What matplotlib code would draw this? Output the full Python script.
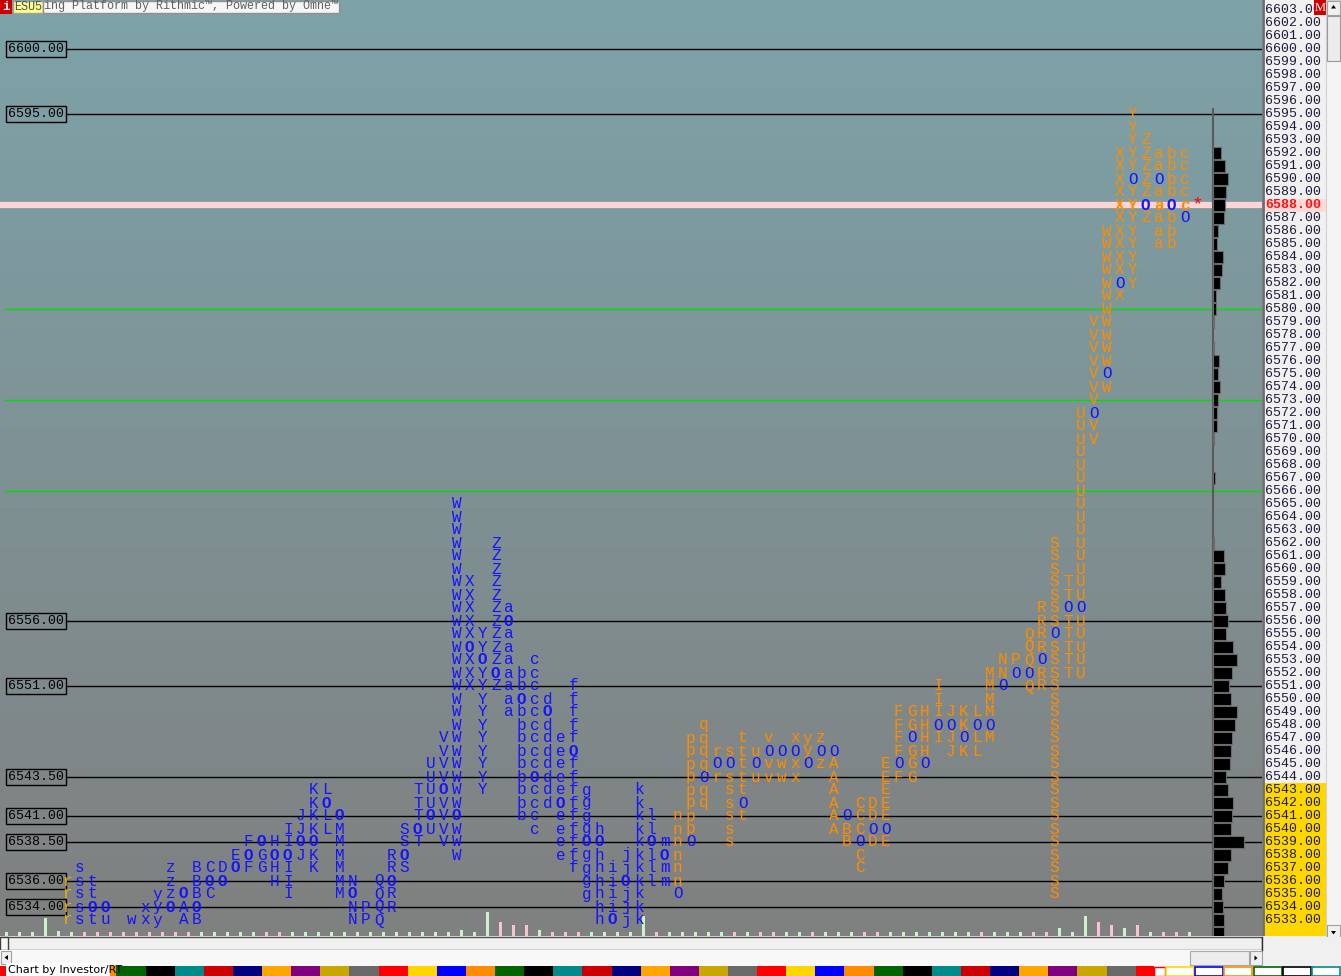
import numpy as np
import matplotlib
matplotlib.use('Agg')
import matplotlib.pyplot as plt
from matplotlib.patches import Rectangle, Polygon
import matplotlib.transforms as mtransforms

# ---------------- DATA ----------------
period_letters = list("rstuvwxyz" "ABCDEFGHIJKLMNPQRSTUVWXYZ" "abcdefghijklmn"
                      "pqrstuvwxyz" "ABCDEFGHIJKLMNPQRSTUVWXYZ" "abc")
period_high = [6536, 6537, 6536, 6534, None, 6533, 6534, 6535, 6537,
               6535, 6537, 6537, 6537, 6538, 6539, 6539, 6539, 6540, 6541, 6543, 6543, 6541, 6536,
               6534, 6536, 6538, 6540, 6543, 6545, 6547, 6565, 6559, 6555, 6562,
               6557, 6552, 6553, 6550, 6547, 6551, 6543, 6540, 6537, 6538, 6543, 6541, 6539, 6541,
               6547, 6548, 6546, 6546, 6547, 6546, 6547, 6546, 6547, 6547, 6547,
               6546, 6541, 6542, 6542, 6545, 6549, 6549, 6549, 6551, 6549, 6549, 6549, 6552, 6553,
               6553, 6555, 6557, 6562, 6559, 6572, 6579, 6586, 6592, 6595, 6593,
               6592, 6592, 6592]
period_low = [6533, 6533, 6533, 6533, None, 6533, 6533, 6533, 6534,
              6533, 6533, 6535, 6536, 6537, 6537, 6537, 6536, 6535, 6538, 6537, 6540, 6535, 6533,
              6533, 6533, 6534, 6537, 6539, 6540, 6539, 6538, 6551, 6543, 6551,
              6549, 6541, 6540, 6542, 6538, 6537, 6535, 6533, 6533, 6533, 6533, 6536, 6536, 6535,
              6539, 6542, 6544, 6539, 6541, 6544, 6544, 6544, 6544, 6545, 6545,
              6540, 6539, 6537, 6539, 6539, 6544, 6544, 6545, 6547, 6546, 6546, 6546, 6547, 6551,
              6552, 6551, 6551, 6535, 6552, 6552, 6570, 6574, 6581, 6582, 6587,
              6585, 6585, 6587]
period_open_mark = [None, None, 6534, 6534, None, None, None, None, 6534,
                    6535, 6534, 6536, 6536, 6537, 6538, 6539, 6538, 6538, 6539, 6539, 6542, 6541, 6535,
                    None, None, 6536, 6538, 6540, 6541, 6543, 6541, 6554, 6553, 6552,
                    6556, 6550, 6544, 6549, 6542, 6546, 6539, 6539, 6533, 6536, None, 6539, 6538, 6535,
                    6539, 6544, 6545, 6545, 6542, 6545, 6546, 6546, 6546, 6545, 6546,
                    6546, 6541, 6539, 6540, 6540, 6545, 6547, 6545, 6548, 6548, 6547, 6548, 6548, 6551,
                    6552, 6552, 6553, 6555, 6557, 6557, 6572, 6575, 6582, 6590, 6588,
                    6590, 6588, 6587]
period_session = [0] + [1] * 46 + [2] * 40
last_price = 6588

profile_prices = list(range(6592, 6531, -1))
profile_volume = [8, 11.7, 14.7, 12.7, 11.7, 10.7, 4.7, 3.7, 9.7, 8.7, 6.7, 2.7, 2.7, 1, 0, 1,
                  5.7, 4.7, 6.7, 4.7, 3.7, 3.7, 1, 0, 0, 1.7, 0, 0, 0, 0, 1,
                  10.7, 11.7, 7.7, 11.7, 12.7, 14.7, 12.7, 19.7, 23.7, 18.7, 15.7, 17.7, 23.7,
                  21.7, 18.7, 17.7, 16.7, 12.7, 14.7, 19.7, 18.7, 17.7, 30.7, 17.7, 14.7,
                  10.7, 8.7, 9.7, 10.7, 10.7]

period_tick_height = [4, 4, 4, 18, 5, 4, 4, 4, 4, 4, 4, 4, 4, 4, 4, 4, 4, 4, 4, 4,
                      4, 4, 4, 4, 4, 4, 4, 4, 4, 4, 4, 4, 4, 4, 4, 6, 4, 24, 14, 11,
                      11, 6, 4, 4, 4, 4, 4, 4, 4, 20, 4, 4, 4, 4, 4, 4, 4, 4, 4, 4,
                      4, 4, 4, 4, 4, 4, 4, 4, 4, 4, 4, 4, 4, 4, 4, 4, 4, 4, 4, 4,
                      4, 8, 4, 20, 14, 11, 8, 11, 4, 4, 4, 4]
period_tick_up = [1, 1, 1, 1, 1, 1, 0, 0, 0, 0, 0, 0, 0, 0, 0, 1, 1, 1, 1, 1,
                  0, 0, 1, 1, 1, 1, 1, 1, 1, 1, 1, 1, 1, 1, 1, 1, 1, 1, 0, 0,
                  0, 1, 0, 0, 0, 1, 1, 1, 1, 1, 0, 1, 1, 1, 1, 1, 0, 1, 0, 0,
                  1, 1, 0, 1, 1, 1, 0, 0, 1, 1, 1, 1, 1, 1, 1, 0, 1, 1, 1, 0,
                  0, 1, 1, 1, 0, 0, 1, 0, 1, 0, 0, 1]

ref_levels = [6600.00, 6595.00, 6556.00, 6551.00, 6543.50, 6541.00, 6538.50, 6536.00, 6534.00]
green_levels = [6580, 6573, 6566]
axis_prices = list(range(6533, 6604))
yellow_below = 6543.5

header_symbol = "ESU5"
header_text = "ing Platform by Rithmic\u2122, Powered by Omne\u2122"
footer_text = "Chart by Investor/RT"

# ---------------- STYLE ----------------
W, H = 1341, 976
MONO = ['Liberation Mono', 'DejaVu Sans Mono']
session_colors = ['#f0b000', '#1414ff', '#ff8c00']
O_COLOR = '#1414ff'
col_px0, col_px = 66.7, 13.0
row_px, last_row_y = 13.0, 205.0
chart_w, chart_h = 1262, 936

fig = plt.figure(figsize=(W / 100, H / 100), dpi=100)
fig.patch.set_facecolor('#f0f0f0')

# main chart axes
ax = fig.add_axes([0, (H - chart_h) / H, chart_w / W, chart_h / H])
xlo, xhi = -col_px0 / col_px, (chart_w - col_px0) / col_px
ylo = last_price - (chart_h - last_row_y) / row_px
yhi = last_price + last_row_y / row_px
ax.set_xlim(xlo, xhi)
ax.set_ylim(ylo, yhi)
ax.set_axis_off()

top = np.array([125, 163, 169]) / 255
bot = np.array([128, 128, 128]) / 255
t = np.linspace(0, 1, 256)[:, None]
grad = (top[None, :] * (1 - t) + bot[None, :] * t)[:, None, :]
ax.imshow(grad, extent=[xlo, xhi, ylo, yhi], aspect='auto', origin='upper', zorder=0)

# pink last price band
ax.axhline(last_price, color='#ffd4d4', lw=4.5, zorder=1)

# green lines
for g in green_levels:
    ax.axhline(g, xmin=5 / chart_w, xmax=1, color='#00e000', lw=1, zorder=1)

# reference lines with boxed labels
btrans = mtransforms.blended_transform_factory(ax.transAxes, ax.transData)
for lv in ref_levels:
    yy = np.ceil(lv)
    ax.axhline(yy, xmin=66 / chart_w, xmax=1, color='black', lw=1, zorder=1)
    ax.text(8 / chart_w, yy, f"{lv:.2f}", transform=btrans, ha='left', va='center',
            fontsize=9.5, family=MONO, color='black', zorder=3,
            bbox=dict(boxstyle='square,pad=0.12', fc='none', ec='black', lw=1))

# TPO letters
for i, letter in enumerate(period_letters):
    hi, lo = period_high[i], period_low[i]
    if hi is None:
        continue
    for p in range(lo, hi + 1):
        bold = (p == last_price)
        if p == period_open_mark[i]:
            ax.text(i, p, 'O', ha='center', va='center', family=MONO, fontsize=11.5,
                    color=O_COLOR, fontweight='bold' if (period_session[i] < 2 or bold) else 'normal',
                    zorder=4)
        else:
            ax.text(i, p, letter, ha='center', va='center', family=MONO, fontsize=11.5,
                    color=session_colors[period_session[i]],
                    fontweight='bold' if bold else 'normal', zorder=4)

# last price asterisk
ax.text(len(period_letters), last_price, '*', ha='center', va='center', fontsize=14,
        color='#ff0000', family=MONO, zorder=5)

# volume profile
prof_left = len(period_letters) + 1.18
ax.vlines(prof_left, ylo, max(period_high[-9:]) + 0.5, color='#5a5a5a', lw=1.5, zorder=2)
pv = np.array(profile_volume)
mask = pv > 0
ax.barh(np.array(profile_prices)[mask], pv[mask] / col_px, left=prof_left, height=0.93,
        color='black', edgecolor='#6a6a6a', lw=0.8, zorder=3)

# per-period ticks at bottom
tick_x = np.arange(len(period_tick_height)) - 5 + 0.38
for x, h, up in zip(tick_x, period_tick_height, period_tick_up):
    ax.add_patch(Rectangle((x - 0.1, 0), 0.2, h / chart_h, transform=btrans if False else
                           mtransforms.blended_transform_factory(ax.transData, ax.transAxes),
                           fc='#c8f4c8' if up else '#f6c6cc', ec='none', zorder=2))

# price label panel
axr = fig.add_axes([chart_w / W, (H - chart_h) / H, 64 / W, chart_h / H])
axr.set_xlim(0, 64)
axr.set_ylim(ylo, yhi)
axr.set_facecolor('#f0f0f0')
for s in axr.spines.values():
    s.set_visible(False)
axr.set_xticks([]); axr.set_yticks([])
axr.axvline(0.8, color='#6e6e6e', lw=2)
axr.add_patch(Rectangle((1.5, ylo), 62.5, yellow_below - ylo, fc='#ffd700', ec='none'))
axr.add_patch(Rectangle((1.5, last_price - 0.5), 62.5, 1.0, fc='#ffd8d8', ec='none'))
for p in axis_prices:
    isl = (p == last_price)
    axr.text(3.5, p, f"{p:.2f}", ha='left', va='center', family=MONO, fontsize=9.5,
             color='#ff1010' if isl else '#1c1c3c', fontweight='bold' if isl else 'normal')

# ---------------- UI chrome (pixel axes) ----------------
ax0 = fig.add_axes([0, 0, 1, 1])
ax0.set_xlim(0, W); ax0.set_ylim(H, 0)
ax0.set_axis_off(); ax0.patch.set_alpha(0)
ax0.set_zorder(10)

def rect(x, y, w, h, fc, ec='none', lw=1.0):
    ax0.add_patch(Rectangle((x, y), w, h, fc=fc, ec=ec, lw=lw))

# header
rect(0, 0, 12, 14, '#cc0000')
ax0.text(6, 7.5, 'i', color='white', fontsize=9, fontweight='bold', ha='center', va='center', family=MONO)
rect(13, 0.5, 30, 12, '#ffff90', '#a0a0a0')
ax0.text(14.5, 6.5, header_symbol, color='#505050', fontsize=8.5, family=MONO, va='center')
rect(43, 0.5, 296, 12, '#f6f6f6', '#909090')
ax0.text(44.5, 6.5, header_text, color='#606060', fontsize=8.5, family=MONO, va='center')
rect(1314, 0, 12, 15, '#cc0000')
ax0.text(1320, 8, 'M', color='white', fontsize=9, family=['Liberation Serif'], ha='center', va='center')

# vertical scrollbar
rect(1326.5, 0, 14.5, 940, '#f4f4f4', '#d0d0d0', 0.8)
rect(1327, 0.5, 13.5, 14.5, '#f0f0f0', '#a0a0a0', 0.8)
ax0.add_patch(Polygon([[1331, 8.5], [1336, 8.5], [1333.5, 5]], fc='black'))
rect(1327, 15.5, 13.5, 45, '#ececec', '#9a9a9a', 0.8)
rect(1327, 925, 13.5, 15, '#f0f0f0', '#a0a0a0', 0.8)
ax0.add_patch(Polygon([[1331, 931], [1336, 931], [1333.5, 934.5]], fc='black'))

# bottom bars
rect(0, 936.5, chart_w, 13.5, '#f0f0f0', '#505050', 1.0)
rect(0, 937, 8, 13, '#f8f8f8', '#404040', 1.0)
rect(0, 950, W, 16, '#f8f8f8')
rect(chart_w, 936.5, W - chart_w, 29, '#f0f0f0')
ax0.plot([chart_w, chart_w], [936.5, 950], color='#303030', lw=1)
rect(0.5, 951, 11, 13, '#f0f0f0', '#a0a0a0', 0.8)
ax0.add_patch(Polygon([[4.5, 957.5], [8, 955], [8, 960]], fc='black'))
rect(1190, 951, 59, 14, '#ececec', '#a8a8a8', 0.8)
rect(1250, 951, 12, 14, '#f0f0f0', '#a0a0a0', 0.8)
ax0.add_patch(Polygon([[1257.5, 958], [1254.5, 955.5], [1254.5, 960.5]], fc='black'))

# colour palette strip
pal = ['#ff0000', '#ffd700', '#0000ff', '#ff8c00', '#006400', '#000000', '#008b8b',
       '#cc0000', '#000080', '#ffa500', '#800080', '#c8a800', '#696969']
bw = 29.12
for j in range(39):
    rect(j * bw, 966, bw + 0.3, 10, pal[j % 13])
rect(39 * bw, 966, 18, 10, '#ff0000')
rect(39 * bw + 18, 966.5, 11, 9, 'white', '#ff0000', 1.0)
for j, c in enumerate(['#ffd700', '#0000ff', '#ff8c00', '#006400', '#000000', '#008b8b']):
    rect(1166 + j * 29.2, 966.5, 28, 9, 'white', c, 1.2)
rect(6, 963, 104, 13, 'white')
ax0.text(8, 970, footer_text, fontsize=8, color='black', va='center', family=['DejaVu Sans'])

fig.savefig('out.png', dpi=100, facecolor=fig.get_facecolor())
